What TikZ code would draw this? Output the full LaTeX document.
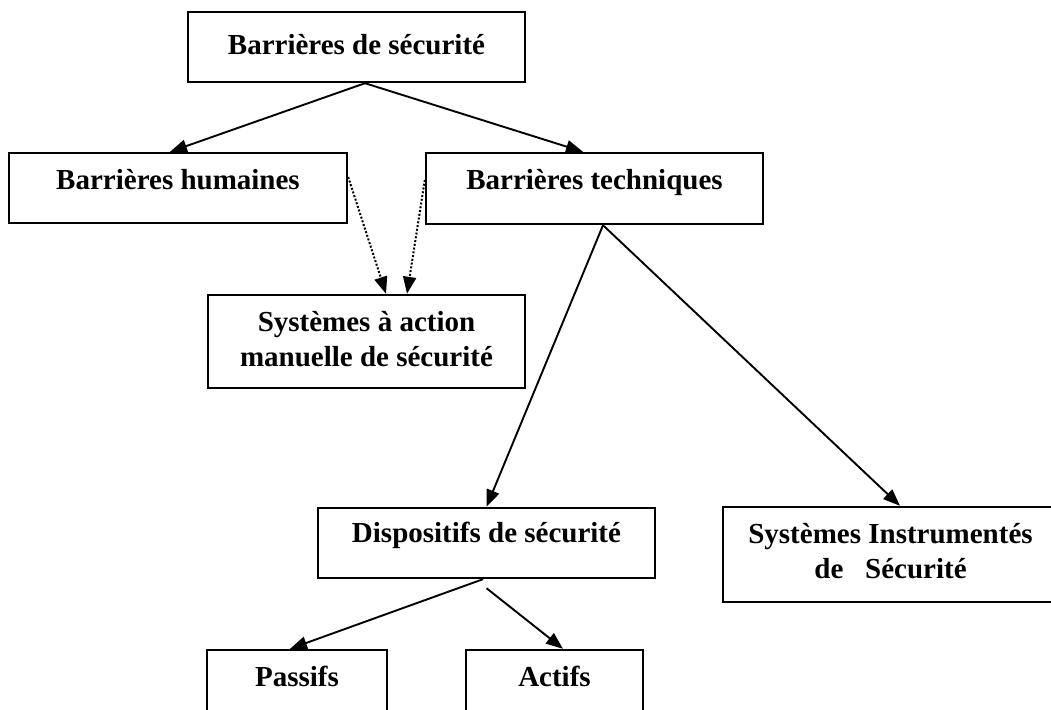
\documentclass[tikz,border=0pt]{standalone}
\usepackage{fontspec}
\setmainfont{Liberation Serif}
\usetikzlibrary{arrows.meta}
\begin{document}
\begin{tikzpicture}[x=1pt,y=-1pt,
  box/.style={draw, line width=2.4pt, rectangle, inner sep=0pt},
  lbl/.style={anchor=base, align=center, inner sep=0pt,
    font=\fontsize{29}{35}\selectfont\bfseries},
  tip/.style={-{Triangle[length=17pt,width=13pt]}},
  arr/.style={line width=1.9pt, tip},
  dotarr/.style={line width=2pt, dash pattern=on 2pt off 1.8pt, tip}]
\useasboundingbox (0,0) rectangle (1051,709);
\clip (0,0) rectangle (1051,709);

% boxes
\node[box, minimum width=337pt, minimum height=70pt] (b1) at (356.5,47) {};
\node[box, minimum width=338pt, minimum height=70pt] (b2) at (178,188) {};
\node[box, minimum width=337pt, minimum height=71pt] (b3) at (594.5,188.5) {};
\node[box, minimum width=317pt, minimum height=93pt] (b4) at (366.5,341.5) {};
\node[box, minimum width=337pt, minimum height=70pt] (b5) at (486.5,543) {};
\node[box, minimum width=335pt, minimum height=95pt] (b6) at (890.5,554.5) {};
\node[box, minimum width=180pt, minimum height=70pt] (b7) at (297,685) {};
\node[box, minimum width=177pt, minimum height=70pt] (b8) at (554.5,685) {};

% labels (two-line labels sit on the baseline of their last line)
\node[lbl] (t1) at ([yshift=-44pt]b1.north) {Barrières de sécurité};
\node[lbl] (t2) at ([yshift=-38pt]b2.north) {Barrières humaines};
\node[lbl] (t3) at ([yshift=-38pt]b3.north) {Barrières techniques};
\node[lbl] (t4) at ([yshift=-73pt]b4.north) {Systèmes à action\\manuelle de sécurité};
\node[lbl] (t5) at ([yshift=-36pt]b5.north) {Dispositifs de sécurité};
\node[lbl] (t6) at ([yshift=-73pt]b6.north) {Systèmes Instrumentés\\de\ \ \ Sécurité};
\node[lbl] (t7) at ([yshift=-38pt]b7.north) {Passifs};
\node[lbl] (t8) at ([yshift=-38pt]b8.north) {Actifs};

% connectors
\draw[arr] ([xshift=8.5pt]b1.south) -- ([xshift=-8pt]b2.north);
\draw[arr] ([xshift=8.5pt]b1.south) -- ([xshift=-11.5pt]b3.north);
\draw[dotarr] ([yshift=11pt]b2.east) -- ([xshift=19.5pt]b4.north);
\draw[dotarr] ([yshift=8.5pt]b3.west) -- ([xshift=40.5pt]b4.north);
\draw[arr] ([xshift=8.5pt]b3.south) -- (b5.north);
\draw[arr] ([xshift=8.5pt]b3.south) -- ([xshift=9.5pt]b6.north);
\draw[arr] ([xshift=-3.5pt]b5.south) -- ([xshift=-7pt]b7.north);
\draw[arr] ([yshift=-9pt]b5.south) -- ([xshift=8.5pt]b8.north);
\end{tikzpicture}
\end{document}
